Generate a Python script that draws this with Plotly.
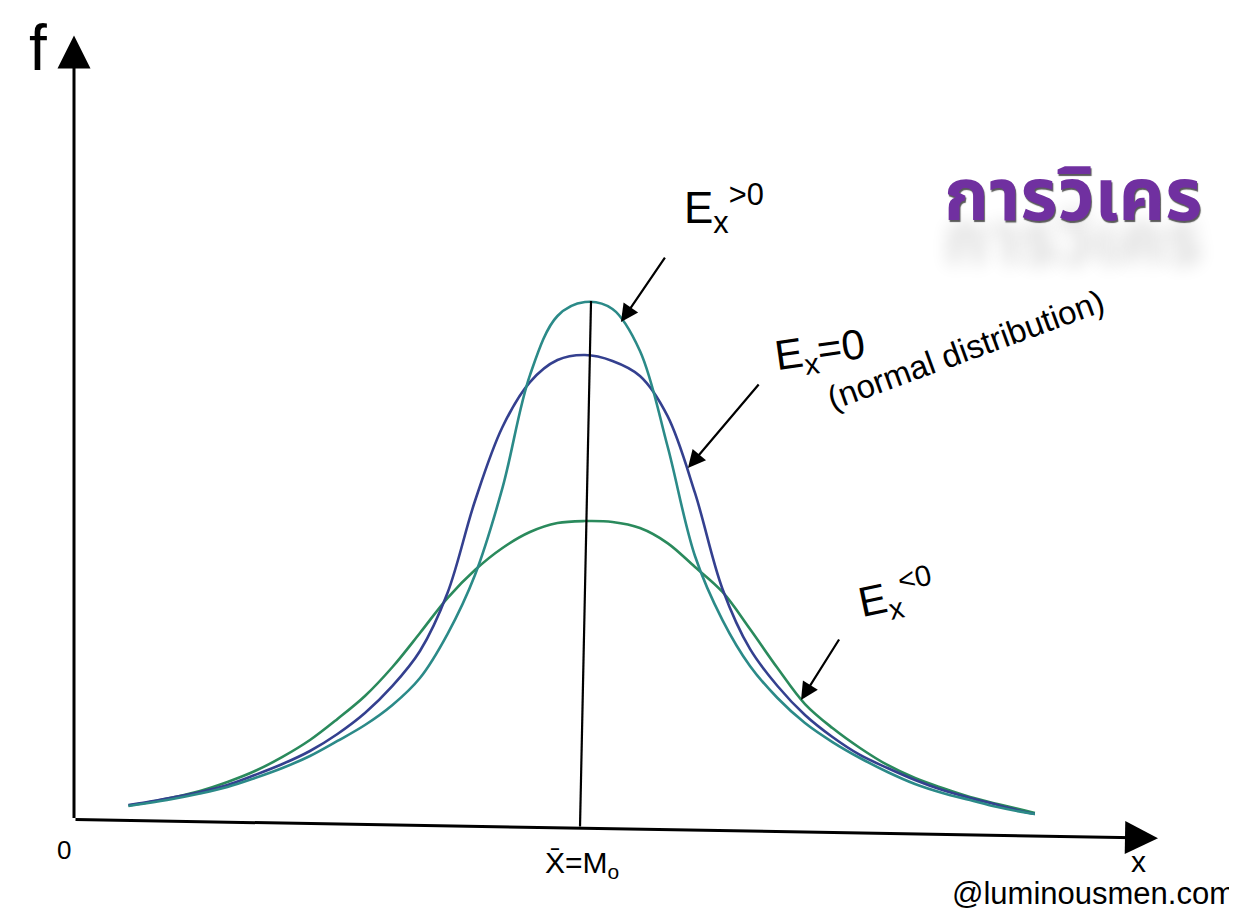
import plotly.graph_objects as go

W, H = 1237, 921

# x: distance from the mean in standard deviations (shared by the three curves)
x_grid = [-4.15, -4.0, -3.75, -3.5, -3.25, -3.0, -2.75, -2.5, -2.25, -2.0, -1.75, -1.5,
          -1.25, -1.0, -0.75, -0.5, -0.25, 0.0, 0.25, 0.5, 0.75, 1.0, 1.25, 1.5, 1.75, 2.0,
          2.25, 2.5, 2.75, 3.0, 3.25, 3.5, 3.75, 4.0, 4.09]

# frequency density
f_pos = [0.0146, 0.0167, 0.0206, 0.0253, 0.0309, 0.0386, 0.0472, 0.0575, 0.0704, 0.0841,
         0.1013, 0.1245, 0.1622, 0.2129, 0.2876, 0.3845, 0.4352, 0.4472, 0.4412, 0.4052,
         0.3236, 0.2292, 0.1742, 0.1348, 0.1073, 0.0858, 0.0695, 0.0558, 0.0438, 0.0335,
         0.0258, 0.0197, 0.0137, 0.0090, 0.0077]
f_norm = [0.0155, 0.0176, 0.0219, 0.0266, 0.0326, 0.0412, 0.0506, 0.0618, 0.0764, 0.0944,
          0.1176, 0.1476, 0.1974, 0.2764, 0.3399, 0.3785, 0.3974, 0.4017, 0.3966, 0.3837,
          0.3494, 0.2833, 0.2009, 0.1494, 0.1176, 0.0927, 0.0738, 0.0584, 0.0472, 0.0369,
          0.0283, 0.0215, 0.0155, 0.0094, 0.0077]
f_neg = [0.0150, 0.0172, 0.0219, 0.0275, 0.0352, 0.0446, 0.0567, 0.0712, 0.0893, 0.1090,
         0.1339, 0.1631, 0.1931, 0.2172, 0.2361, 0.2498, 0.2575, 0.2592, 0.2584, 0.2532,
         0.2403, 0.2197, 0.1983, 0.1665, 0.1330, 0.1021, 0.0815, 0.0644, 0.0498, 0.0386,
         0.0300, 0.0223, 0.0163, 0.0107, 0.0086]

# mean = mode marker line (from the top of the peaked curve down to the x axis)
mean_x = [0.055, -0.045]
mean_f = [0.448, -0.003]

# where the label pointers touch the curves
tip_pos = (0.327, 0.430)
tip_norm = (0.936, 0.3047)
tip_neg = (1.964, 0.1056)

# axis extent (origin and arrow tips)
axis_origin = (-4.645, 0.003)
y_tip = (-4.645, 0.676)
x_tip = (5.209, -0.013)

X_RANGE = [-5.245, 6.0]
Y_RANGE = [-0.091, 0.6996]

HAND = "Liberation Sans, DejaVu Sans, sans-serif"
THAI = "Noto Sans Thai, Tahoma, sans-serif"
COL_POS = "#2b8a88"
COL_NORM = "#34408f"
COL_NEG = "#2a8a5c"
PURPLE = "#7030a0"


def px(x, y):
    """pixel position -> paper coords"""
    return x / W, 1 - y / H


fig = go.Figure()

for fs, col, name in [
    (f_neg, COL_NEG, "Ex<0"),
    (f_norm, COL_NORM, "Ex=0"),
    (f_pos, COL_POS, "Ex>0"),
]:
    fig.add_trace(go.Scatter(
        x=x_grid, y=fs, mode="lines", name=name,
        line=dict(color=col, width=2.6, shape="spline", smoothing=1.0),
        showlegend=False, hoverinfo="skip",
    ))

fig.add_trace(go.Scatter(
    x=mean_x, y=mean_f, mode="lines",
    line=dict(color="black", width=2.2), showlegend=False, hoverinfo="skip",
))

annotations = []

# axes drawn as arrows
for tip in (y_tip, x_tip):
    annotations.append(dict(
        x=tip[0], y=tip[1], ax=axis_origin[0], ay=axis_origin[1],
        xref="x", yref="y", axref="x", ayref="y", text="",
        showarrow=True, arrowhead=2, arrowsize=2.2, arrowwidth=3, arrowcolor="black",
    ))

# pointers to the curves
for tip, dx, dy in [(tip_pos, 45, -66), (tip_norm, 72, -85), (tip_neg, 39, -62)]:
    annotations.append(dict(
        x=tip[0], y=tip[1], ax=dx, ay=dy, xref="x", yref="y", text="",
        showarrow=True, arrowhead=2, arrowsize=1.6, arrowwidth=2.2, arrowcolor="black",
    ))


def label(text, x, y, size, angle=0, xanchor="center", color="black", family=HAND, **font_kw):
    px_, py_ = px(x, y)
    font = dict(family=family, size=size, color=color, **font_kw)
    annotations.append(dict(
        text=text, x=px_, y=py_, xref="paper", yref="paper", showarrow=False,
        xanchor=xanchor, yanchor="middle", textangle=angle, font=font,
    ))


label("f", 30, 40, 64)
label("0", 56, 842, 26)
label("X\u0304=M<sub>o</sub>", 574, 856, 30)
label("x", 1130, 853, 30)
label("@luminousmen.com", 1229, 885, 31, xanchor="right")
label("E<sub>x</sub><sup>>0</sup>", 716, 200, 44)
label("E<sub>x</sub>=0", 812, 345, 42, angle=-8)
label("(normal distribution)", 958, 342, 33, angle=-20)
label("E<sub>x</sub><sup><0</sup>", 888, 586, 42, angle=-12)

# title (runs off the right edge in the original)
label("การวิเคร", 934, 190, 72, xanchor="left", color=PURPLE, family=THAI,
      weight="bold", shadow="1px 2px 1px #5a5a5a, 0px 44px 18px rgba(0,0,0,0.14)")

fig.update_layout(
    width=W, height=H,
    margin=dict(l=0, r=0, t=0, b=0),
    paper_bgcolor="white", plot_bgcolor="white",
    xaxis=dict(range=X_RANGE, visible=False, fixedrange=True),
    yaxis=dict(range=Y_RANGE, visible=False, fixedrange=True),
    annotations=annotations,
)

fig.write_html("out.html")
